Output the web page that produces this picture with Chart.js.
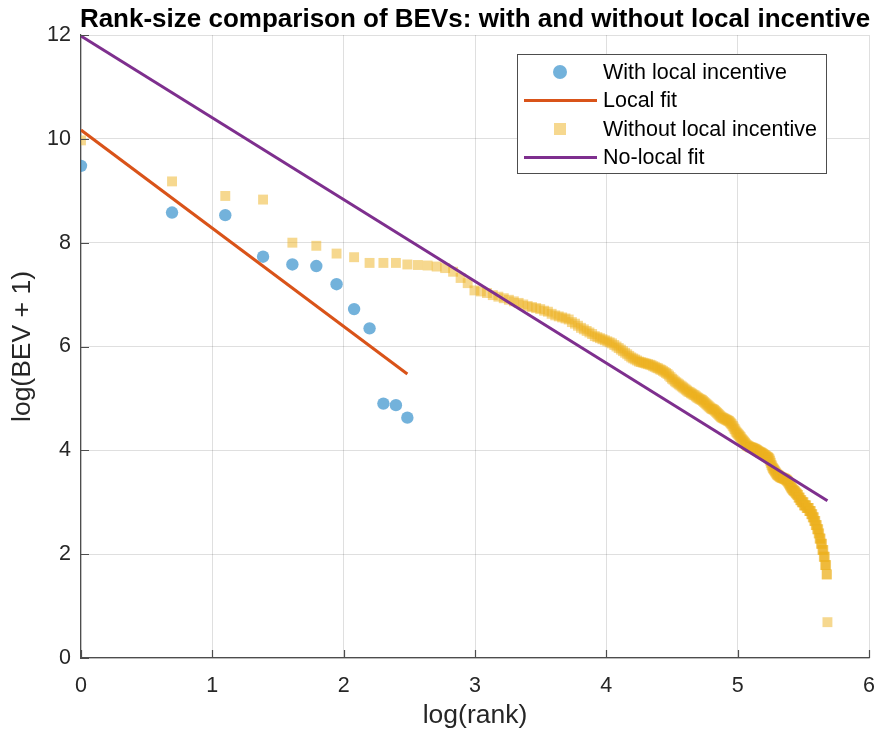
<!DOCTYPE html>
<html>
<head>
<meta charset="utf-8">
<script src="https://cdn.jsdelivr.net/npm/chart.js@4.4.1/dist/chart.umd.min.js"></script>
<style>
  html, body { margin: 0; padding: 0; background: #fff; }
  #wrap { width: 881px; height: 736px; }
</style>
</head>
<body>
<div id="wrap"><canvas id="rankChart" width="881" height="736"></canvas></div>
<script>
// log(BEV + 1) by rank
const withLocal = [9.48, 8.58, 8.53, 7.73, 7.58, 7.55, 7.20, 6.72, 6.35, 4.90, 4.87, 4.63];

const withoutLocal = [
  9.97, 9.18, 8.90, 8.83, 8.00, 7.94, 7.79, 7.72, 7.61, 7.61,
  7.61, 7.58, 7.57, 7.56, 7.54, 7.51, 7.44, 7.32, 7.22, 7.08,
  7.06, 7.03, 6.99, 6.96, 6.93, 6.90, 6.87, 6.84, 6.81, 6.78,
  6.76, 6.74, 6.72, 6.69, 6.67, 6.63, 6.60, 6.58, 6.56, 6.54,
  6.52, 6.47, 6.44, 6.40, 6.36, 6.33, 6.30, 6.27, 6.24, 6.20,
  6.18, 6.16, 6.14, 6.12, 6.10, 6.08, 6.06, 6.03, 6.00, 5.97,
  5.94, 5.91, 5.88, 5.85, 5.82, 5.79, 5.77, 5.75, 5.73, 5.71,
  5.70, 5.69, 5.68, 5.67, 5.66, 5.65, 5.64, 5.62, 5.61, 5.59,
  5.58, 5.56, 5.55, 5.53, 5.51, 5.49, 5.47, 5.44, 5.41, 5.38,
  5.36, 5.33, 5.31, 5.29, 5.27, 5.25, 5.23, 5.21, 5.19, 5.17,
  5.15, 5.13, 5.12, 5.10, 5.09, 5.07, 5.06, 5.04, 5.02, 5.01,
  4.99, 4.98, 4.97, 4.95, 4.93, 4.91, 4.89, 4.87, 4.85, 4.83,
  4.81, 4.80, 4.79, 4.78, 4.76, 4.74, 4.72, 4.70, 4.68, 4.66,
  4.64, 4.63, 4.62, 4.61, 4.60, 4.59, 4.58, 4.57, 4.56, 4.54,
  4.52, 4.50, 4.47, 4.44, 4.41, 4.38, 4.35, 4.33, 4.31, 4.29,
  4.27, 4.25, 4.22, 4.20, 4.18, 4.16, 4.14, 4.12, 4.10, 4.09,
  4.08, 4.07, 4.06, 4.06, 4.05, 4.05, 4.04, 4.03, 4.03, 4.02,
  4.01, 4.00, 3.99, 3.98, 3.97, 3.96, 3.96, 3.95, 3.94, 3.93,
  3.92, 3.91, 3.90, 3.89, 3.88, 3.87, 3.86, 3.85, 3.83, 3.80,
  3.76, 3.72, 3.69, 3.66, 3.64, 3.62, 3.60, 3.58, 3.56, 3.54,
  3.53, 3.52, 3.51, 3.50, 3.49, 3.48, 3.48, 3.47, 3.47, 3.46,
  3.46, 3.45, 3.45, 3.44, 3.43, 3.42, 3.41, 3.39, 3.37, 3.35,
  3.33, 3.31, 3.29, 3.27, 3.26, 3.24, 3.23, 3.22, 3.21, 3.20,
  3.18, 3.17, 3.16, 3.14, 3.14, 3.09, 3.09, 3.09, 3.04, 3.04,
  3.04, 3.00, 3.00, 3.00, 3.00, 2.94, 2.94, 2.94, 2.94, 2.94,
  2.89, 2.89, 2.89, 2.89, 2.89, 2.83, 2.83, 2.83, 2.83, 2.77,
  2.77, 2.77, 2.71, 2.71, 2.71, 2.64, 2.64, 2.64, 2.56, 2.56,
  2.56, 2.48, 2.48, 2.48, 2.40, 2.40, 2.30, 2.30, 2.30, 2.20,
  2.20, 2.20, 2.08, 2.08, 2.08, 1.95, 1.95, 1.95, 1.79, 1.79,
  1.79, 1.61, 1.61, 0.69
];

// fitted lines: value at rank 1 and at the last rank
const localFit = [10.17, 5.47];
const noLocalFit = [11.98, 3.03];

const xTicks = [0, 1, 2, 3, 4, 5, 6];
const yTicks = [0, 2, 4, 6, 8, 10, 12];

const FONT = "'Liberation Sans', Arial, Helvetica, sans-serif";
const colors = {
  blue: 'rgba(0, 114, 189, 0.55)',
  yellow: 'rgba(237, 177, 32, 0.5)',
  orange: '#D95319',
  purple: '#7E2F8E',
  axis: '#4d4d4d',
  text: '#262626',
  grid: 'rgba(38, 38, 38, 0.15)'
};

const toPoints = arr => arr.map((v, i) => ({ x: Math.log(i + 1), y: v }));
const fitPoints = (fit, n) => [{ x: 0, y: fit[0] }, { x: Math.log(n), y: fit[1] }];

// title centred over the plot area (MATLAB style)
const titlePlugin = {
  id: 'plotTitle',
  afterDraw(chart) {
    const { ctx, chartArea } = chart;
    ctx.save();
    ctx.font = 'bold 26px ' + FONT;
    ctx.fillStyle = '#000';
    ctx.textAlign = 'center';
    ctx.textBaseline = 'alphabetic';
    ctx.fillText('Rank-size comparison of BEVs: with and without local incentive',
      (chartArea.left + chartArea.right) / 2, chartArea.top - 8);
    ctx.restore();
  }
};

// inward tick marks
const tickPlugin = {
  id: 'inTicks',
  afterDatasetsDraw(chart) {
    const { ctx, chartArea, scales } = chart;
    ctx.save();
    ctx.strokeStyle = colors.axis;
    ctx.lineWidth = 1.2;
    ctx.beginPath();
    xTicks.forEach(t => {
      const px = Math.round(scales.x.getPixelForValue(t)) + 0.5;
      ctx.moveTo(px, chartArea.bottom);
      ctx.lineTo(px, chartArea.bottom - 8);
    });
    yTicks.forEach(t => {
      const py = Math.round(scales.y.getPixelForValue(t)) + 0.5;
      ctx.moveTo(chartArea.left, py);
      ctx.lineTo(chartArea.left + 8, py);
    });
    ctx.stroke();
    ctx.restore();
  }
};

// boxed legend in the upper right
const legendPlugin = {
  id: 'boxLegend',
  afterDraw(chart) {
    const { ctx, chartArea } = chart;
    const ds = chart.data.datasets;
    const items = [ds[0], ds[1], ds[2], ds[3]];
    const bx = chartArea.left + 436, by = chartArea.top + 19, bw = 309, bh = 119;
    ctx.save();
    ctx.fillStyle = '#fff';
    ctx.fillRect(bx, by, bw, bh);
    ctx.strokeStyle = colors.axis;
    ctx.lineWidth = 1;
    ctx.strokeRect(bx + 0.5, by + 0.5, bw, bh);
    ctx.font = '21.5px ' + FONT;
    ctx.textBaseline = 'middle';
    ctx.textAlign = 'left';
    items.forEach((d, i) => {
      const cy = by + 18 + i * 28.5;
      const mx = bx + 43;
      if (d.showLine) {
        ctx.strokeStyle = d.borderColor;
        ctx.lineWidth = 3;
        ctx.beginPath();
        ctx.moveTo(bx + 7, cy);
        ctx.lineTo(bx + 80, cy);
        ctx.stroke();
      } else {
        ctx.fillStyle = d.backgroundColor;
        ctx.beginPath();
        if (d.pointStyle === 'circle') {
          ctx.arc(mx, cy, 7, 0, Math.PI * 2);
        } else {
          ctx.rect(mx - 6, cy - 6, 12, 12);
        }
        ctx.fill();
      }
      ctx.fillStyle = '#000';
      ctx.fillText(d.label, bx + 86, cy + 1);
    });
    ctx.restore();
  }
};

new Chart(document.getElementById('rankChart'), {
  type: 'scatter',
  data: {
    datasets: [
      {
        label: 'With local incentive',
        data: toPoints(withLocal),
        pointStyle: 'circle',
        backgroundColor: colors.blue,
        borderColor: 'transparent',
        pointRadius: 6.2,
        pointBorderWidth: 0,
        order: 4
      },
      {
        label: 'Local fit',
        data: fitPoints(localFit, withLocal.length),
        showLine: true,
        borderColor: colors.orange,
        backgroundColor: colors.orange,
        borderWidth: 3,
        pointRadius: 0,
        order: 3
      },
      {
        label: 'Without local incentive',
        data: toPoints(withoutLocal),
        pointStyle: 'rect',
        backgroundColor: colors.yellow,
        borderColor: 'transparent',
        pointRadius: 7,
        pointBorderWidth: 0,
        order: 2
      },
      {
        label: 'No-local fit',
        data: fitPoints(noLocalFit, withoutLocal.length),
        showLine: true,
        borderColor: colors.purple,
        backgroundColor: colors.purple,
        borderWidth: 3,
        pointRadius: 0,
        order: 1
      }
    ]
  },
  options: {
    responsive: false,
    animation: false,
    devicePixelRatio: 1,
    layout: { padding: { top: 35, right: 12, left: 0, bottom: 0 } },
    plugins: {
      legend: { display: false },
      title: { display: false },
      tooltip: { enabled: false }
    },
    scales: {
      x: {
        type: 'linear',
        min: 0,
        max: 6,
        afterFit: s => { s.height = 78; s.paddingLeft = 0; s.paddingRight = 0; },
        afterBuildTicks: s => { s.ticks = xTicks.map(v => ({ value: v })); },
        ticks: { color: colors.text, font: { family: FONT, size: 21.5 }, padding: 15, maxRotation: 0 },
        grid: { color: colors.grid, lineWidth: 1, drawTicks: false },
        border: { display: true, color: colors.axis, width: 1.2 },
        title: {
          display: true,
          text: 'log(rank)',
          color: colors.text,
          font: { family: FONT, size: 26.5 },
          padding: { top: 0, bottom: 4 }
        }
      },
      y: {
        type: 'linear',
        min: 0,
        max: 12,
        afterFit: s => { s.width = 81; s.paddingTop = 0; s.paddingBottom = 0; },
        afterBuildTicks: s => { s.ticks = yTicks.map(v => ({ value: v })); },
        ticks: { color: colors.text, font: { family: FONT, size: 21.5 }, padding: 10 },
        grid: { color: colors.grid, lineWidth: 1, drawTicks: false },
        border: { display: true, color: colors.axis, width: 1.2 },
        title: {
          display: true,
          text: 'log(BEV + 1)',
          color: colors.text,
          font: { family: FONT, size: 26.5 },
          padding: { top: 7, bottom: 0 }
        }
      }
    }
  },
  plugins: [tickPlugin, titlePlugin, legendPlugin]
});
</script>
</body>
</html>
